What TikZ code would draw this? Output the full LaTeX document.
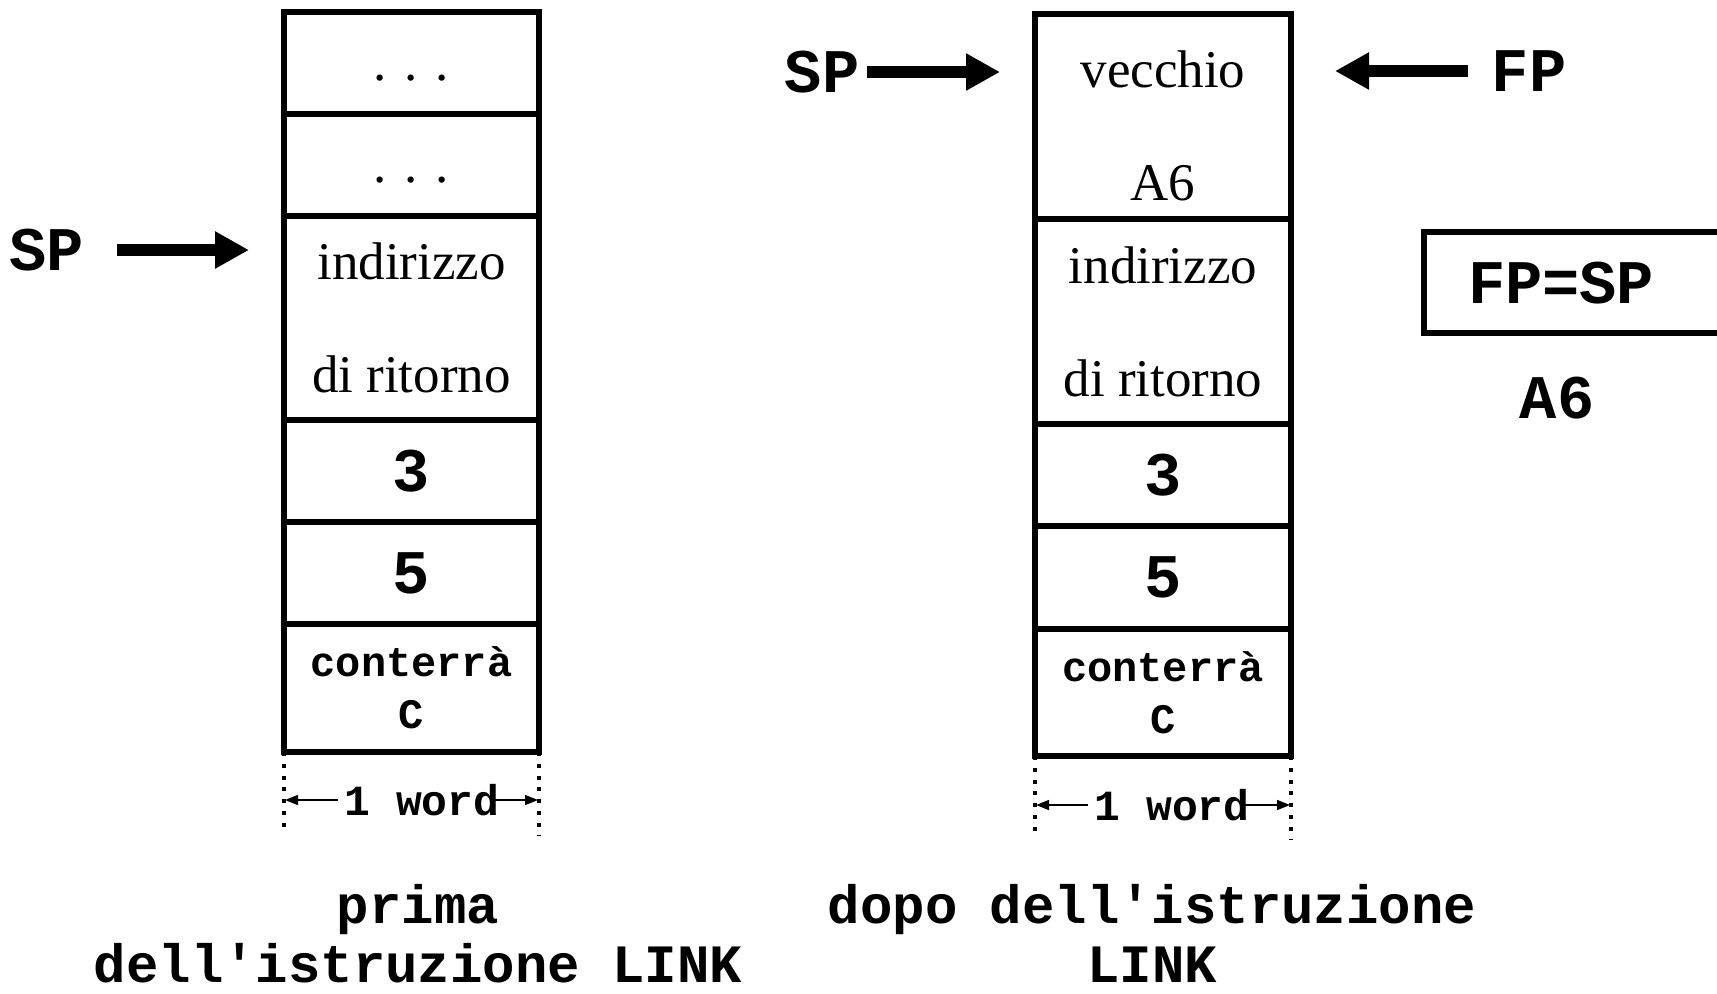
\documentclass[tikz,border=0pt]{standalone}
\usepackage{fontspec}
\usetikzlibrary{arrows.meta}
\newfontfamily\romfont{Liberation Serif}
\newfontfamily\courfont{Liberation Mono}

\begin{document}
\begin{tikzpicture}[
  x=0.5pt, y=-0.5pt,
  rom/.style={font=\romfont\fontsize{26.5pt}{56.5pt}\selectfont},
  big/.style={font=\courfont\bfseries\fontsize{31pt}{31pt}\selectfont, inner sep=0pt},
  small/.style={font=\courfont\bfseries\fontsize{21pt}{26pt}\selectfont, inner sep=0pt},
  caption/.style={font=\courfont\bfseries\fontsize{27pt}{29.5pt}\selectfont, align=center, inner sep=0pt},
  cell/.style={draw=black, line width=2.6pt, outer sep=0pt, inner sep=0pt,
    minimum width=127.5pt, align=center, rom},
  ptr/.style={draw=black, line width=6pt, -{Triangle[length=17pt,width=17.5pt]}},
  span/.style={draw=black, line width=0.8pt, -{Triangle[length=6.5pt,width=5pt]}},
  dotline/.style={draw=black, line width=2.3pt, dash pattern=on 2pt off 3.9pt}
]
  \useasboundingbox (0,0) rectangle (1717,993);

  \node[cell, minimum height=51pt, text height=18pt] (l1) at (411.5, 63) {. . .};
  \node[cell, minimum height=51pt, text height=18pt] (l2) at (411.5, 165) {. . .};
  \node[cell, minimum height=102pt] (l3) at (411.5, 318) {indirizzo\\di ritorno};
  \node[cell, big, minimum height=51pt] (l4) at (411.5, 471) {3};
  \node[cell, big, minimum height=51pt] (l5) at (411.5, 573) {5};
  \node[cell, small, minimum height=64pt] (l6) at (411.5, 688) {conterrà\\C};

  \node[cell, minimum width=128pt, minimum height=102.5pt, text height=84.5pt] (r1) at (1163, 116.5) {vecchio\\A6};
  \node[cell, minimum width=128pt, minimum height=102.5pt] (r2) at (1163, 321.5) {indirizzo\\di ritorno};
  \node[cell, big, minimum width=128pt, minimum height=51pt] (r3) at (1163, 475) {3};
  \node[cell, big, minimum width=128pt, minimum height=51.5pt] (r4) at (1163, 577.5) {5};
  \node[cell, small, minimum width=128pt, minimum height=63.5pt] (r5) at (1163, 692.5) {conterrà\\C};

  \node[big] (spl) at (46.5, 250) {SP};
  \node[big] (spr) at (822, 72) {SP};
  \node[big] (fp) at (1529, 71) {FP};
  \node[big, draw=black, line width=3pt, outer sep=0pt, anchor=west, inner xsep=22pt,
    text width=105pt, align=left, minimum height=50.5pt, text depth=0pt] (fpsp) at (1424, 282.5) {FP=SP};
  \node[big] (a6) at (1557, 398) {A6};

  \draw[ptr, shorten <=16.6pt, shorten >=17.5pt] (spl.east) -- (spl.east -| l3.west);
  \draw[ptr, shorten <=3.9pt, shorten >=17.5pt] (spr.east) -- (spr.east -| r1.west);
  \draw[ptr, shorten <=11.9pt, shorten >=22pt] (fp.west) -- (fp.west -| r1.east);

  \coordinate (l6a) at (284, 830);
  \coordinate (l6b) at (539, 835);
  \coordinate (r5a) at (1035, 833);
  \coordinate (r5b) at (1291, 840);
  \draw[dotline] (l6.south west) -- (l6a);
  \draw[dotline] (l6.south east) -- (l6b);
  \draw[dotline] (r5.south west) -- (r5a);
  \draw[dotline] (r5.south east) -- (r5b);

  \node[small, font=\courfont\bfseries\fontsize{21.5pt}{26pt}\selectfont] (wl) at (422, 800) {1 word};
  \node[small, font=\courfont\bfseries\fontsize{21.5pt}{26pt}\selectfont] (wr) at (1172, 805) {1 word};
  \draw[span, shorten <=3.3pt, shorten >=0.5pt] (wl.west) -- (wl.west -| l6.west);
  \draw[span, shorten <=-3.2pt, shorten >=0.5pt] (wl.east) -- (wl.east -| l6.east);
  \draw[span, shorten <=3.3pt, shorten >=0.5pt] (wr.west) -- (wr.west -| r5.west);
  \draw[span, shorten <=-3.2pt, shorten >=0.5pt] (wr.east) -- (wr.east -| r5.east);

  \node[caption] (capl) at (418, 934) {prima\\dell'istruzione LINK};
  \node[caption] (capr) at (1152, 933) {dopo dell'istruzione\\LINK};
\end{tikzpicture}
\end{document}
